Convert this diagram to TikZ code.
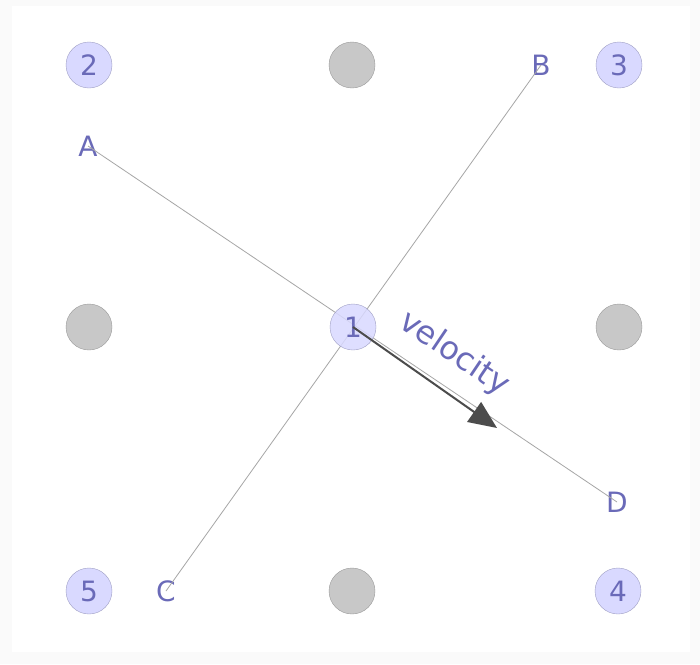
\documentclass[tikz,border=0pt]{standalone}
\usepackage{fontspec}
\setmainfont{DejaVu Sans}
\usetikzlibrary{arrows.meta}
\definecolor{ink}{HTML}{6A6AB8}
\definecolor{lav}{HTML}{D9D9FF}
\definecolor{lavedge}{HTML}{A0A0C4}
\definecolor{stone}{HTML}{C8C8C8}
\definecolor{stoneedge}{HTML}{9A9A9A}
\tikzset{
  site/.style={circle, minimum size=46pt, inner sep=0pt, draw=lavedge, fill=lav, text=ink, font=\fontsize{28}{28}\selectfont},
  empty/.style={circle, minimum size=46pt, inner sep=0pt, draw=stoneedge, fill=stone},
  tag/.style={inner sep=0pt, text=ink, font=\fontsize{28}{28}\selectfont},
  ray/.style={draw=black!35, line width=0.8pt},
}

\begin{document}
\begin{tikzpicture}[x=1pt,y=-1pt]
\fill[black!2] (0,0) rectangle (700,664);
\fill[white] (12,6) rectangle (690,652);
\useasboundingbox (0,0) rectangle (700,664);
% lattice
\node[site] (n2) at (89,65) {2};
\node[empty] (top) at (352,65) {};
\node[site] (n3) at (619,65) {3};
\node[empty] (left) at (89,327) {};
\node[empty] (right) at (619,327) {};
\node[site] (n5) at (89,591) {5};
\node[empty] (bottom) at (352,591) {};
\node[site] (n4) at (618,591) {4};
% labels
\node[tag] (A) at (88,146) {A};
\node[tag] (B) at (541,65) {B};
\node[tag] (C) at (166,591) {C};
\node[tag] (D) at (617,502) {D};
\draw[ray] (A.center) -- (D.center);
\draw[ray] (C.center) -- (B.center);
\node[site, fill opacity=0.85, text opacity=1] (n1) at (353,327) {1};
\coordinate (tip) at (497,428);
\draw[black!70, line width=2pt, -{Triangle[length=28pt, width=24pt]}] (n1.center) -- (tip);
\node[tag, rotate=-34, font=\fontsize{32}{32}\selectfont] (vel) at (454,354) {velocity};
\end{tikzpicture}
\end{document}
